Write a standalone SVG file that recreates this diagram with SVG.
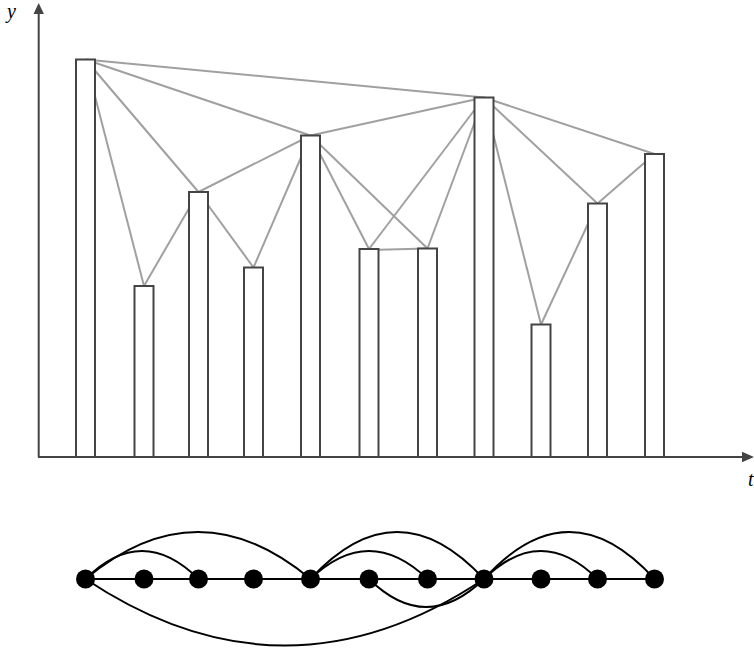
<svg xmlns="http://www.w3.org/2000/svg" width="754" height="653" viewBox="0 0 754 653">
<style>
.vis{stroke:#a0a0a0;stroke-width:2;fill:none}
.bar{fill:#fff;stroke:#444;stroke-width:2}
.axis{stroke:#444;stroke-width:2;fill:none}
.arc{stroke:#000;stroke-width:2;fill:none}
.node{fill:#000}
.lbl{font-family:"Liberation Serif",serif;font-style:italic;font-size:20px;fill:#000}
</style>
<rect width="754" height="653" fill="#fff"/>
<g id="connectors">
<line class="vis" x1="85.5" y1="59.5" x2="144" y2="286"/>
<line class="vis" x1="85.5" y1="59.5" x2="198.5" y2="192"/>
<line class="vis" x1="85.5" y1="59.5" x2="310.5" y2="135.5"/>
<line class="vis" x1="85.5" y1="59.5" x2="484" y2="97.5"/>
<line class="vis" x1="144" y1="286" x2="198.5" y2="192"/>
<line class="vis" x1="198.5" y1="192" x2="253.5" y2="267.5"/>
<line class="vis" x1="198.5" y1="192" x2="310.5" y2="135.5"/>
<line class="vis" x1="253.5" y1="267.5" x2="310.5" y2="135.5"/>
<line class="vis" x1="310.5" y1="135.5" x2="369" y2="249"/>
<line class="vis" x1="310.5" y1="135.5" x2="427.5" y2="248.5"/>
<line class="vis" x1="310.5" y1="135.5" x2="484" y2="97.5"/>
<line class="vis" x1="369" y1="250" x2="427.5" y2="248.5"/>
<line class="vis" x1="369" y1="249" x2="484" y2="97.5"/>
<line class="vis" x1="427.5" y1="248.5" x2="484" y2="97.5"/>
<line class="vis" x1="484" y1="97.5" x2="541" y2="324.5"/>
<line class="vis" x1="484" y1="97.5" x2="597.5" y2="203.5"/>
<line class="vis" x1="484" y1="97.5" x2="654.5" y2="154"/>
<line class="vis" x1="541" y1="324.5" x2="597.5" y2="203.5"/>
<line class="vis" x1="597.5" y1="203.5" x2="654.5" y2="154"/>
</g>
<g id="bars">
<rect id="bar1" class="bar" x="76" y="59.5" width="19" height="397.5"/>
<rect id="bar2" class="bar" x="134.5" y="286" width="19" height="171"/>
<rect id="bar3" class="bar" x="189" y="192" width="19" height="265"/>
<rect id="bar4" class="bar" x="244" y="267.5" width="19" height="189.5"/>
<rect id="bar5" class="bar" x="301" y="135.5" width="19" height="321.5"/>
<rect id="bar6" class="bar" x="359.5" y="249" width="19" height="208"/>
<rect id="bar7" class="bar" x="418" y="248.5" width="19" height="208.5"/>
<rect id="bar8" class="bar" x="474.5" y="97.5" width="19" height="359.5"/>
<rect id="bar9" class="bar" x="531.5" y="324.5" width="19" height="132.5"/>
<rect id="bar10" class="bar" x="588" y="203.5" width="19" height="253.5"/>
<rect id="bar11" class="bar" x="645" y="154" width="19" height="303"/>
</g>
<g id="axes">
<line class="axis" x1="38.7" y1="457" x2="38.7" y2="12"/>
<polygon points="38.7,3 33.5,14 43.9,14" fill="#444"/>
<line class="axis" x1="38" y1="457" x2="743" y2="457"/>
<polygon points="754,457 742,451.8 742,462.2" fill="#444"/>
<text class="lbl" x="7" y="18">y</text>
<text class="lbl" x="748" y="486">t</text>
</g>
<g id="graph-edges">
<line class="arc" x1="85.5" y1="579" x2="654.5" y2="579"/>
<path class="arc" d="M85.5,579 Q142,523 198.5,579"/>
<path class="arc" d="M85.5,579 Q198,485 310.5,579"/>
<path class="arc" d="M310.5,579 Q369,523 427.5,579"/>
<path class="arc" d="M310.5,579 Q397,485 484,579"/>
<path class="arc" d="M484,579 Q541,523 597.5,579"/>
<path class="arc" d="M484,579 Q569,485 654.5,579"/>
<path class="arc" d="M85.5,579 Q285,712 484,579"/>
<path class="arc" d="M369,579 Q426,635 484,579"/>
</g>
<g id="graph-nodes">
<circle id="n1" class="node" cx="85.5" cy="579" r="9.5"/>
<circle id="n2" class="node" cx="144" cy="579" r="9.5"/>
<circle id="n3" class="node" cx="198.5" cy="579" r="9.5"/>
<circle id="n4" class="node" cx="253.5" cy="579" r="9.5"/>
<circle id="n5" class="node" cx="310.5" cy="579" r="9.5"/>
<circle id="n6" class="node" cx="369" cy="579" r="9.5"/>
<circle id="n7" class="node" cx="427.5" cy="579" r="9.5"/>
<circle id="n8" class="node" cx="484" cy="579" r="9.5"/>
<circle id="n9" class="node" cx="541" cy="579" r="9.5"/>
<circle id="n10" class="node" cx="597.5" cy="579" r="9.5"/>
<circle id="n11" class="node" cx="654.5" cy="579" r="9.5"/>
</g>
</svg>
